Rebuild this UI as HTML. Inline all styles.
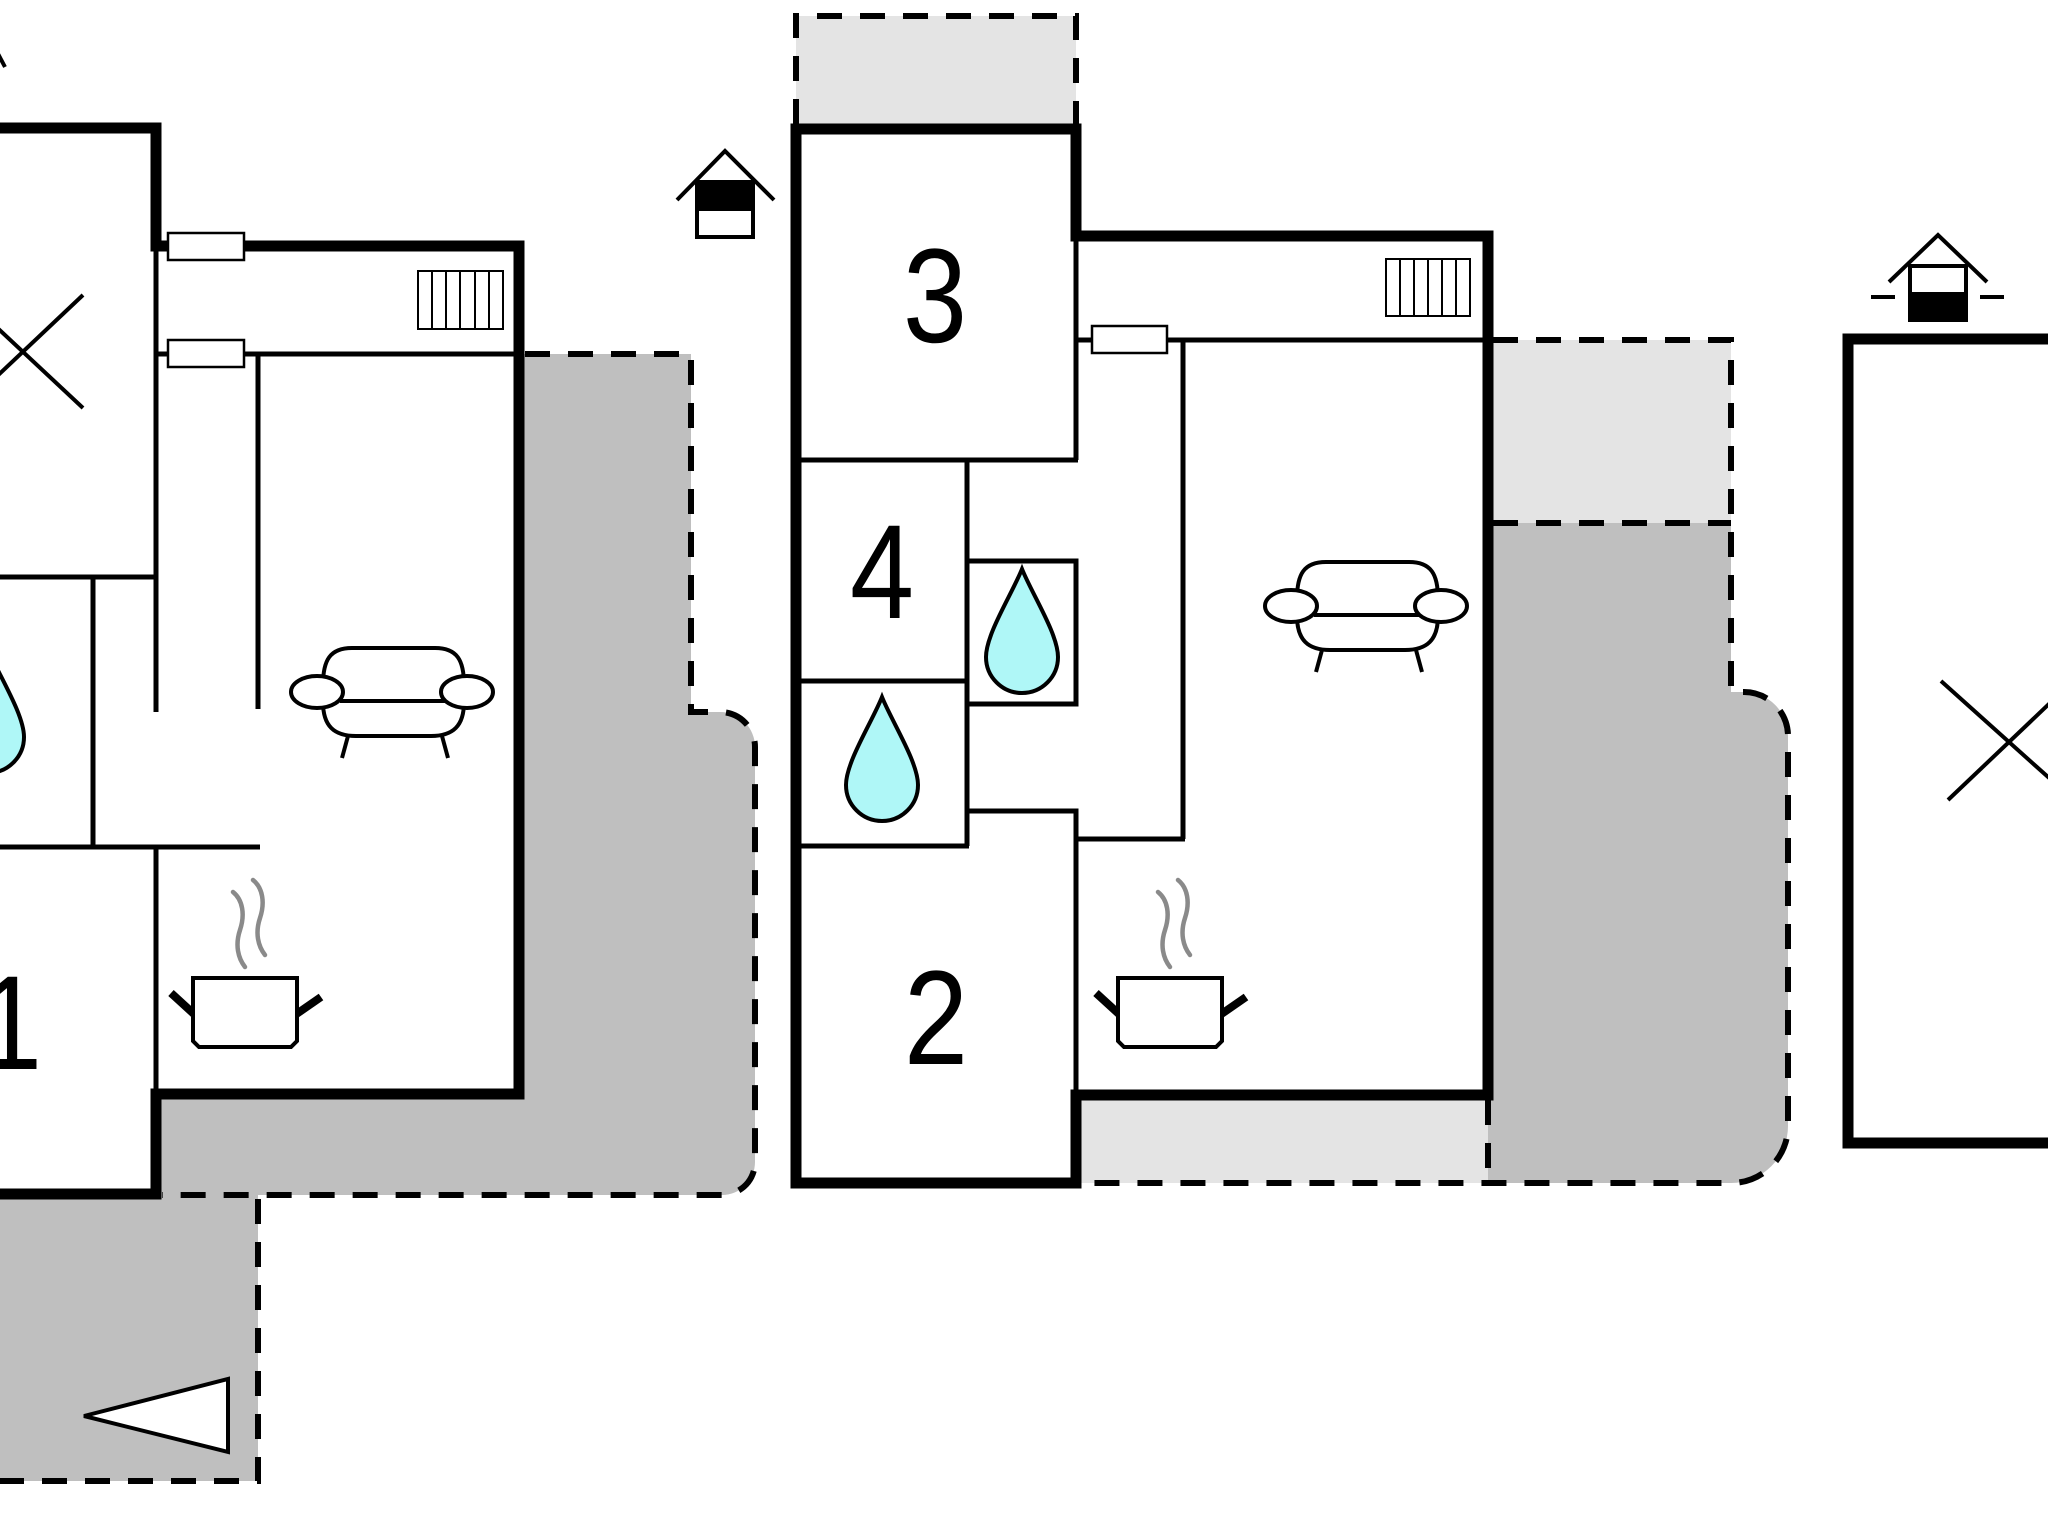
<!DOCTYPE html>
<html>
<head>
<meta charset="utf-8">
<style>
html,body{margin:0;padding:0;background:#fff;}
svg{display:block;}
text{font-family:"Liberation Sans",Arial,sans-serif;fill:#000;}
</style>
</head>
<body>
<svg width="2048" height="1538" viewBox="0 0 2048 1538" xmlns="http://www.w3.org/2000/svg">
<rect x="0" y="0" width="2048" height="1538" fill="#fff"/>

<!-- ===== Gray fills ===== -->
<path d="M519,354 L691,354 L691,712 L720,712 A35,35 0 0 1 755,747 L755,1162 A33,33 0 0 1 722,1195 L258,1195 L258,1481 L-5,1481 L-5,1194 L156,1194 L156,1094 L519,1094 Z" fill="#bfbfbf"/>
<rect x="796" y="16" width="280" height="110" fill="#e4e4e4"/>
<rect x="1493" y="340" width="238" height="183" fill="#e4e4e4"/>
<rect x="1081" y="1100" width="412" height="83" fill="#e4e4e4"/>
<path d="M1493,523 L1731,523 L1731,692 L1744,692 A44,44 0 0 1 1788,736 L1788,1126 A57,57 0 0 1 1731,1183 L1488,1183 L1488,1100 L1493,1100 Z" fill="#bfbfbf"/>

<!-- ===== Dashed outlines ===== -->
<g fill="none" stroke="#000" stroke-width="6" stroke-dasharray="25,18">
  <path d="M525,354 L691,354 L691,712 L720,712 A35,35 0 0 1 755,747 L755,1162 A33,33 0 0 1 722,1195 L162,1195"/>
  <path d="M258,1199 L258,1481 L-5,1481"/>
  <path d="M796,124 L796,16 L1076,16 L1076,124"/>
  <path d="M1493,340 L1731,340 L1731,692 L1744,692 A44,44 0 0 1 1788,736 L1788,1126 A57,57 0 0 1 1731,1183 L1081,1183"/>
  <path d="M1493,523 L1731,523"/>
  <path d="M1488,1100 L1488,1183"/>
</g>

<!-- ===== Left building ===== -->
<g fill="none" stroke="#000" stroke-width="11" stroke-linejoin="miter">
  <polyline points="-10,128 156,128 156,246 170,246"/>
  <polyline points="244,246 519,246 519,1094 156,1094 156,1194 -10,1194"/>
</g>
<g fill="none" stroke="#000" stroke-width="5">
  <line x1="156" y1="246" x2="156" y2="712"/>
  <line x1="156" y1="354" x2="168" y2="354"/>
  <line x1="244" y1="354" x2="516" y2="354"/>
  <line x1="258" y1="354" x2="258" y2="709"/>
  <line x1="-5" y1="577" x2="156" y2="577"/>
  <line x1="93" y1="577" x2="93" y2="847"/>
  <line x1="-5" y1="847" x2="260" y2="847"/>
  <line x1="156" y1="847" x2="156" y2="1094"/>
</g>
<rect x="168" y="233" width="76" height="27" fill="#fff" stroke="#000" stroke-width="2.5"/>
<rect x="168" y="340" width="76" height="27" fill="#fff" stroke="#000" stroke-width="2.5"/>
<g fill="#fff" stroke="#000" stroke-width="2">
  <rect x="418" y="271" width="85" height="58"/>
  <line x1="432" y1="271" x2="432" y2="329"/>
  <line x1="446" y1="271" x2="446" y2="329"/>
  <line x1="460" y1="271" x2="460" y2="329"/>
  <line x1="475" y1="271" x2="475" y2="329"/>
  <line x1="489" y1="271" x2="489" y2="329"/>
</g>
<g stroke="#000" stroke-width="4">
  <line x1="83" y1="295" x2="-41" y2="412"/>
  <line x1="83" y1="408" x2="-41" y2="292"/>
</g>
<path d="M-12,649 C-2,674 24,714 24,737 A36,36 0 0 1 -48,737 C-48,714 -22,674 -12,649 Z" fill="#aff7f7" stroke="#000" stroke-width="4"/>
<line x1="-4" y1="50" x2="5" y2="67" stroke="#000" stroke-width="4"/>

<g stroke="#000" stroke-width="4" fill="none">
  <rect x="697" y="182" width="56" height="55" fill="#fff"/>
  <rect x="697" y="182" width="56" height="27" fill="#000"/>
  <polyline points="677,200 725,151 774,200"/>
</g>

<g fill="none" stroke="#000" stroke-width="4">
  <path d="M323,685 C323,660 330,648 352,648 L435,648 C457,648 464,660 464,685"/>
  <path d="M323,702 C323,726 334,736 356,736 L431,736 C453,736 464,726 464,702"/>
  <line x1="340" y1="701" x2="446" y2="701"/>
  <ellipse cx="317" cy="692" rx="26" ry="16" fill="#fff"/>
  <ellipse cx="467" cy="692" rx="26" ry="16" fill="#fff"/>
  <line x1="348" y1="736" x2="342" y2="758"/>
  <line x1="442" y1="736" x2="448" y2="758"/>
</g>

<g>
  <path d="M233,892 C243,900 245,915 240,930 C235,945 238,958 245,967" fill="none" stroke="#8a8a8a" stroke-width="4.5" stroke-linecap="round"/>
  <path d="M253,880 C263,888 265,903 260,918 C255,933 258,946 265,955" fill="none" stroke="#8a8a8a" stroke-width="4.5" stroke-linecap="round"/>
  <line x1="171" y1="993" x2="195" y2="1015" stroke="#000" stroke-width="8"/>
  <line x1="295" y1="1015" x2="321" y2="997" stroke="#000" stroke-width="8"/>
  <path d="M193,978 L297,978 L297,1041 L291,1047 L199,1047 L193,1041 Z" fill="#fff" stroke="#000" stroke-width="4"/>
</g>

<text transform="translate(-22,1069) scale(0.86,1)" x="0" y="0" font-size="134">1</text>

<polygon points="84,1416 228,1379 228,1452" fill="#fff" stroke="#000" stroke-width="4"/>

<!-- ===== Middle building ===== -->
<path d="M1076,1095 L1488,1095 L1488,236 L1076,236 L1076,129 L796,129 L796,1183 L1076,1183 Z" fill="none" stroke="#000" stroke-width="11"/>
<g fill="none" stroke="#000" stroke-width="5">
  <line x1="1076" y1="236" x2="1076" y2="460"/>
  <line x1="796" y1="460" x2="1078" y2="460"/>
  <line x1="967" y1="460" x2="967" y2="846"/>
  <line x1="796" y1="681" x2="967" y2="681"/>
  <polyline points="967,561 1076,561 1076,704 967,704"/>
  <line x1="796" y1="846" x2="969" y2="846"/>
  <polyline points="967,811 1076,811 1076,1095"/>
  <line x1="1076" y1="340" x2="1092" y2="340"/>
  <line x1="1167" y1="340" x2="1500" y2="340"/>
  <line x1="1183" y1="340" x2="1183" y2="839"/>
  <line x1="1076" y1="839" x2="1185" y2="839"/>
</g>
<rect x="1092" y="326" width="75" height="27" fill="#fff" stroke="#000" stroke-width="2.5"/>
<g fill="#fff" stroke="#000" stroke-width="2">
  <rect x="1386" y="259" width="84" height="57"/>
  <line x1="1400" y1="259" x2="1400" y2="316"/>
  <line x1="1414" y1="259" x2="1414" y2="316"/>
  <line x1="1428" y1="259" x2="1428" y2="316"/>
  <line x1="1442" y1="259" x2="1442" y2="316"/>
  <line x1="1456" y1="259" x2="1456" y2="316"/>
</g>
<path d="M1022,569 C1032,594 1058,634 1058,657 A36,36 0 0 1 986,657 C986,634 1012,594 1022,569 Z" fill="#aff7f7" stroke="#000" stroke-width="4"/>
<path d="M882,697 C892,722 918,762 918,785 A36,36 0 0 1 846,785 C846,762 872,722 882,697 Z" fill="#aff7f7" stroke="#000" stroke-width="4"/>

<text transform="translate(935,342) scale(0.86,1)" x="0" y="0" font-size="134" text-anchor="middle">3</text>
<text transform="translate(882,618) scale(0.86,1)" x="0" y="0" font-size="134" text-anchor="middle">4</text>
<text transform="translate(936,1064) scale(0.86,1)" x="0" y="0" font-size="134" text-anchor="middle">2</text>

<g transform="translate(974,-86)" fill="none" stroke="#000" stroke-width="4">
  <path d="M323,685 C323,660 330,648 352,648 L435,648 C457,648 464,660 464,685"/>
  <path d="M323,702 C323,726 334,736 356,736 L431,736 C453,736 464,726 464,702"/>
  <line x1="340" y1="701" x2="446" y2="701"/>
  <ellipse cx="317" cy="692" rx="26" ry="16" fill="#fff"/>
  <ellipse cx="467" cy="692" rx="26" ry="16" fill="#fff"/>
  <line x1="348" y1="736" x2="342" y2="758"/>
  <line x1="442" y1="736" x2="448" y2="758"/>
</g>
<g transform="translate(925,0)">
  <path d="M233,892 C243,900 245,915 240,930 C235,945 238,958 245,967" fill="none" stroke="#8a8a8a" stroke-width="4.5" stroke-linecap="round"/>
  <path d="M253,880 C263,888 265,903 260,918 C255,933 258,946 265,955" fill="none" stroke="#8a8a8a" stroke-width="4.5" stroke-linecap="round"/>
  <line x1="171" y1="993" x2="195" y2="1015" stroke="#000" stroke-width="8"/>
  <line x1="295" y1="1015" x2="321" y2="997" stroke="#000" stroke-width="8"/>
  <path d="M193,978 L297,978 L297,1041 L291,1047 L199,1047 L193,1041 Z" fill="#fff" stroke="#000" stroke-width="4"/>
</g>

<!-- ===== Right building ===== -->
<polyline points="2060,339 1848,339 1848,1143 2060,1143" fill="none" stroke="#000" stroke-width="11"/>
<g stroke="#000" stroke-width="4">
  <line x1="1941" y1="681" x2="2077" y2="803"/>
  <line x1="1948" y1="800" x2="2070" y2="684"/>
</g>
<g stroke="#000" stroke-width="4" fill="none">
  <rect x="1910" y="266" width="56" height="54" fill="#fff"/>
  <rect x="1910" y="294" width="56" height="26" fill="#000"/>
  <polyline points="1889,282 1938,235 1987,282"/>
  <line x1="1871" y1="297" x2="1895" y2="297"/>
  <line x1="1980" y1="297" x2="2004" y2="297"/>
</g>
</svg>
</body>
</html>
